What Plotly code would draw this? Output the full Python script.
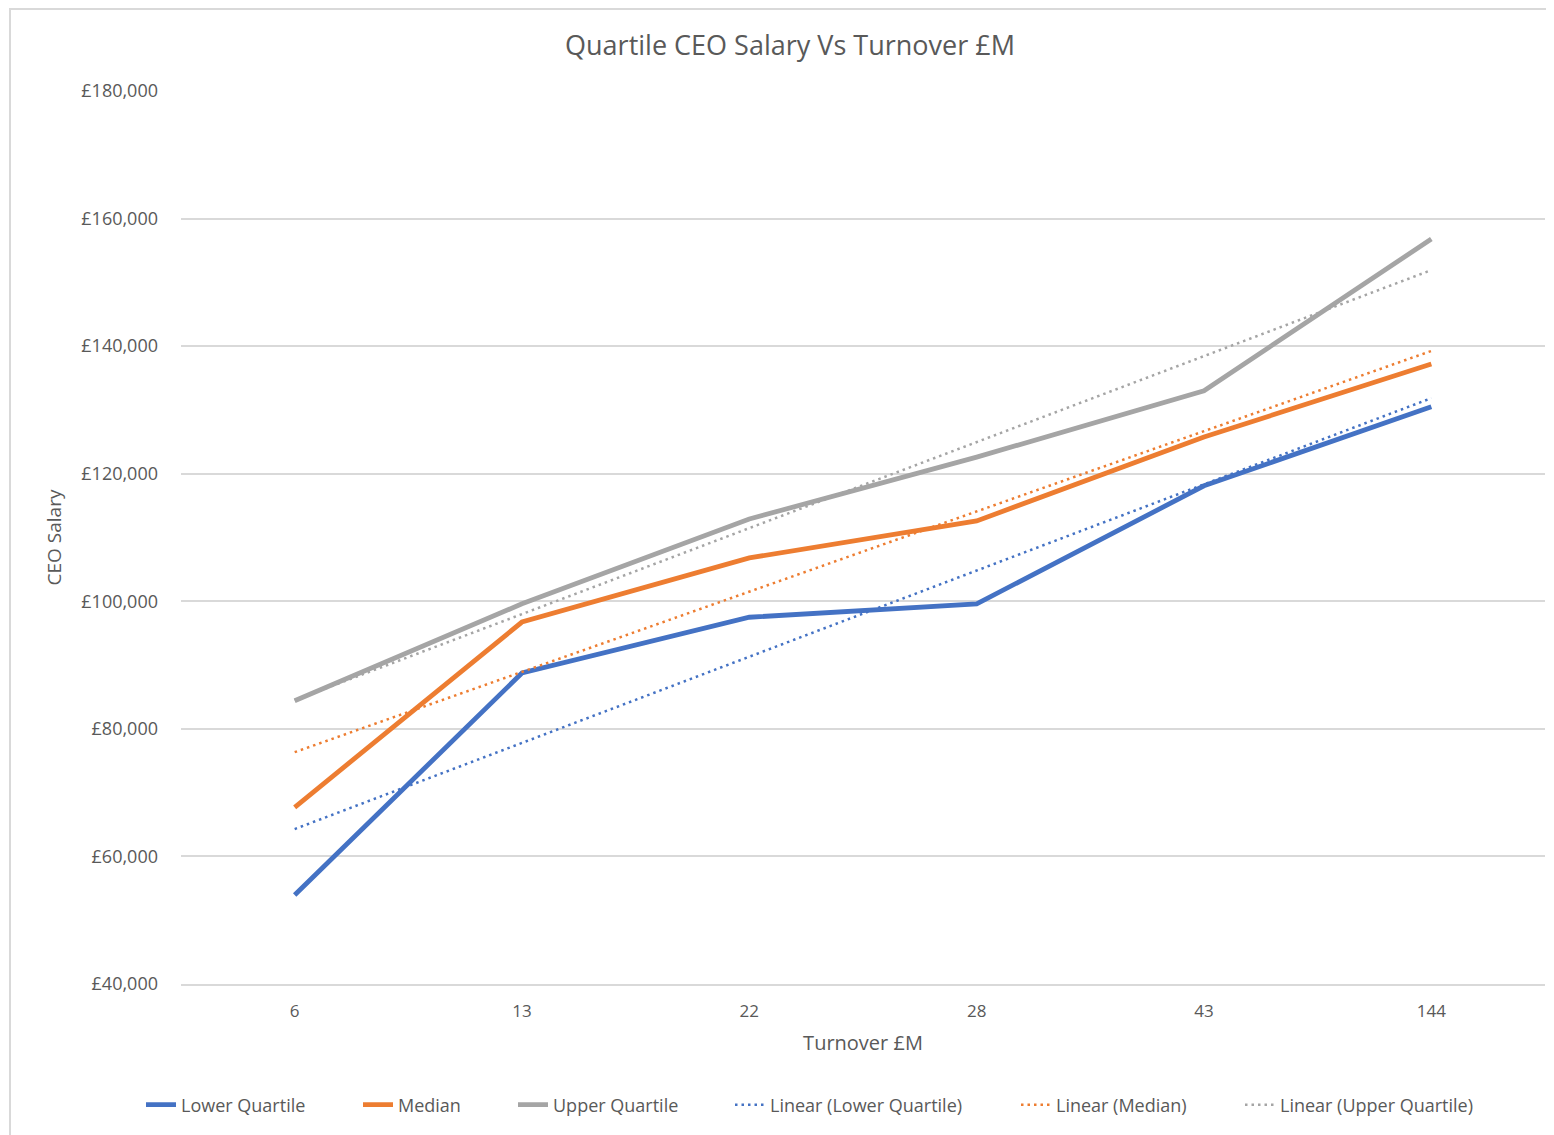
import numpy as np
import plotly.graph_objects as go

turnover = ["6", "13", "22", "28", "43", "144"]
lower_quartile = [53950, 88750, 97500, 99600, 118100, 130500]
median = [67700, 96750, 106800, 112600, 125750, 137200]
upper_quartile = [84400, 99600, 112900, 122600, 133000, 156800]

series_names = ["Lower Quartile", "Median", "Upper Quartile"]
colors = ["#4472C4", "#ED7D31", "#A5A5A5"]
y_ticks = [40000, 60000, 80000, 100000, 120000, 140000, 160000, 180000]
y_tick_labels = ["£40,000", "£60,000", "£80,000", "£100,000", "£120,000",
                 "£140,000", "£160,000", "£180,000"]

font_family = "Segoe UI, Open Sans, Noto Sans, sans-serif"
text_color = "#595959"

# page has an 8px body margin; figure coordinates are offset accordingly
W, H = 1546, 1127
L, T = 173, 83
PW, PH = 1364, 893
R = W - L - PW
B = H - T - PH

fig = go.Figure()
all_series = [lower_quartile, median, upper_quartile]

# legend text start positions (page px) for each entry
legend_text_x = [181, 398, 553, 770, 1056, 1280]
legend_ids = ["legend", "legend2", "legend3", "legend4", "legend5", "legend6"]

k = 0
for name, vals, col in zip(series_names, all_series, colors):
    fig.add_trace(go.Scatter(
        x=turnover, y=vals, mode="lines", name=name,
        line=dict(color=col, width=4.8), legend=legend_ids[k],
    ))
    k += 1

# Linear trendlines (least-squares fit over category index, as Excel does)
idx = np.arange(len(turnover))
for name, vals, col in zip(series_names, all_series, colors):
    slope, intercept = np.polyfit(idx, vals, 1)
    trend = slope * idx + intercept
    fig.add_trace(go.Scatter(
        x=turnover, y=trend, mode="lines", name=f"Linear ({name})",
        line=dict(color=col, width=2.5, dash="2.5px,4px"), legend=legend_ids[k],
    ))
    k += 1

legend_y = -(1105 - 8 - (T + PH)) / PH
legends = {}
for lid, tx in zip(legend_ids, legend_text_x):
    fx = tx - 8 - 40  # container px where legend box starts
    legends[lid] = dict(orientation="h", xref="paper", x=(fx - L) / PW, xanchor="left",
                        y=legend_y, yanchor="middle", bgcolor="rgba(0,0,0,0)",
                        font=dict(size=18, color=text_color))

fig.update_layout(
    width=W, height=H,
    margin=dict(l=L, r=R, t=T, b=B),
    paper_bgcolor="white", plot_bgcolor="white",
    font=dict(family=font_family, color=text_color, size=16),
    title=dict(text="Quartile CEO Salary Vs Turnover £M",
               x=(790 - 8) / W, xanchor="center", y=1 - (46 - 8) / H, yanchor="middle",
               font=dict(size=27, color=text_color)),
    showlegend=True,
    shapes=[dict(type="rect", xref="paper", yref="paper",
                 x0=(2 - L) / PW, x1=(W + 40 - L) / PW,
                 y0=-(H + 40 - T - PH) / PH, y1=1 + (T - 1) / PH,
                 line=dict(color="#D9D9D9", width=2), layer="below")],
    **legends,
)

fig.update_xaxes(
    type="category", range=[-0.5, len(turnover) - 0.5],
    showgrid=False, showline=True, linecolor="#D9D9D9", linewidth=1.5,
    ticks="", ticklabelstandoff=11,
    tickfont=dict(size=17, color=text_color),
    title=dict(text="Turnover £M", font=dict(size=20, color=text_color), standoff=15),
)
fig.update_yaxes(
    range=[40000, 180000], tickvals=y_ticks, ticktext=y_tick_labels,
    showgrid=True, gridcolor="#D9D9D9", gridwidth=1.5,
    zeroline=False, showline=False, ticks="", ticklabelstandoff=22,
    tickfont=dict(size=18, color=text_color),
    title=dict(text="CEO Salary", font=dict(size=19, color=text_color), standoff=14),
)

fig.write_html("out.html")
